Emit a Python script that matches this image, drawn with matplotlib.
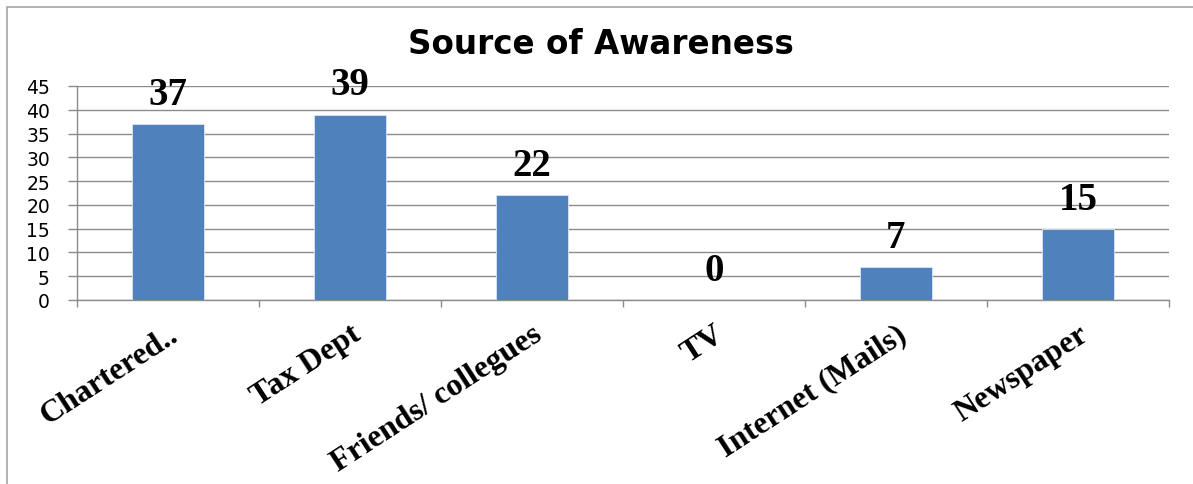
import matplotlib.pyplot as plt
from matplotlib.patches import Rectangle

# dados
fontes = ["Chartered..", "Tax Dept", "Friends/ collegues", "TV", "Internet (Mails)", "Newspaper"]
respostas = [37, 39, 22, 0, 7, 15]
yticks = [0, 5, 10, 15, 20, 25, 30, 35, 40, 45]

W, H = 1193, 485
fig = plt.figure(figsize=(W / 100, H / 100), dpi=100)
ax = fig.add_axes([77 / W, 1 - 301 / H, (1169 - 77) / W, (301 - 87) / H])

pos = list(range(len(fontes)))
bars = ax.bar(pos, respostas, width=0.4, color="#4F81BD", edgecolor="#DCE6F2", linewidth=0.6, zorder=3)

for b, v in zip(bars, respostas):
    ax.annotate(str(v), (b.get_x() + b.get_width() / 2, v), xytext=(0, 8), textcoords="offset points",
                ha="center", va="bottom", fontsize=28, fontweight="bold", family="Liberation Serif")

ax.set_xlim(-0.5, len(fontes) - 0.5)
ax.set_ylim(0, 45)
ax.set_yticks(yticks)
ax.tick_params(axis="y", length=6.5, width=1, color="#8C8C8C", pad=13, labelsize=13.5)
ax.yaxis.grid(True, color="#8C8C8C", linewidth=1, zorder=0)

# ticks do eixo x nas fronteiras das categorias
ax.set_xticks([p - 0.5 for p in pos] + [len(fontes) - 0.5], minor=True)
ax.tick_params(axis="x", which="minor", length=5, width=1, color="#8C8C8C")
ax.set_xticks(pos)
ax.set_xticklabels(fontes, rotation=33, ha="right", va="top", rotation_mode="anchor",
                   fontsize=23, fontweight="bold", family="Liberation Serif")
ax.tick_params(axis="x", which="major", length=0, pad=14)

for s in ["top", "right"]:
    ax.spines[s].set_visible(False)
for s in ["left", "bottom"]:
    ax.spines[s].set_color("#8C8C8C")
    ax.spines[s].set_linewidth(1)

fig.text(601 / W, 1 - 44 / H, "Source of Awareness", ha="center", va="center",
         fontsize=23.5, fontweight="bold")

# borda da área do gráfico
fig.patches.append(Rectangle((7 / W, -0.1), 1.2, 1 - 8 / H + 0.1, transform=fig.transFigure,
                             fill=False, edgecolor="#A6A6A6", linewidth=1.2))

fig.savefig("out.png", dpi=100)
